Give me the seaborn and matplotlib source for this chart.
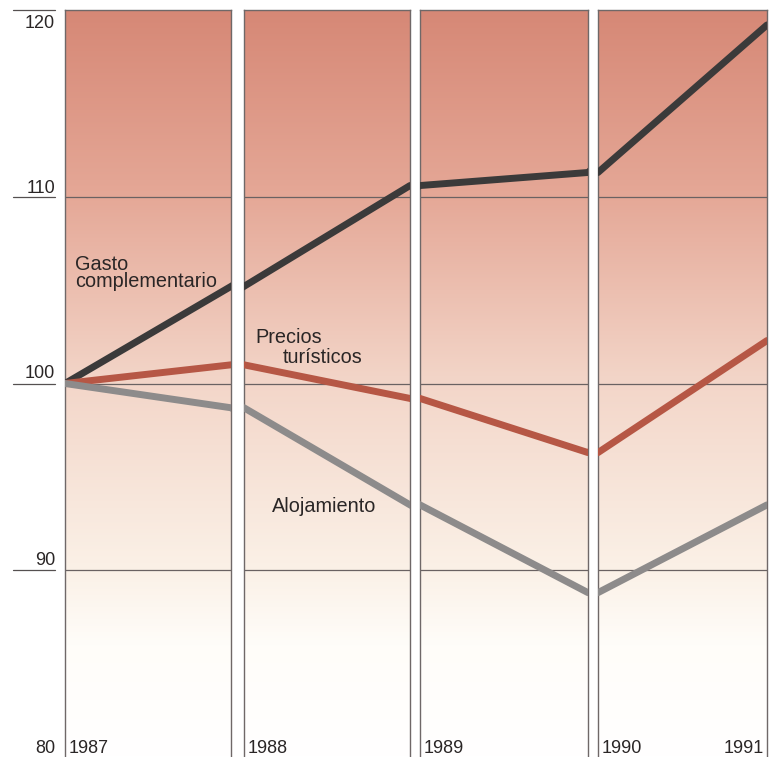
import numpy as np
import pandas as pd
import matplotlib
matplotlib.use("Agg")
import matplotlib.pyplot as plt
import seaborn as sns

years = [1987, 1988, 1989, 1990, 1991]
gasto_complementario = [100.0, 105.2, 110.6, 111.3, 119.2]
precios_turisticos = [100.0, 101.0, 99.2, 96.3, 102.3]
alojamiento = [100.0, 98.7, 93.5, 88.8, 93.5]
series_names = ["Gasto complementario", "Precios turísticos", "Alojamiento"]
y_ticks = [80, 90, 100, 110, 120]

df = pd.DataFrame({
    "year": years * 3,
    "value": gasto_complementario + precios_turisticos + alojamiento,
    "serie": sum([[n] * len(years) for n in series_names], []),
})
palette = {"Gasto complementario": "#3b3a3a",
           "Precios turísticos": "#b65745",
           "Alojamiento": "#8d8b8b"}

sns.set_style("white")
plt.rcParams["font.family"] = ["Liberation Sans", "DejaVu Sans"]

fig = plt.figure(figsize=(7.7, 7.57), dpi=100)
W, H = 770, 757
panels = [(65, 166), (244, 166), (420, 168), (598, 169)]
top_px = 10
TXT = "#2a2626"
LBL = 14.3

# vertical background gradient: salmon at top fading to white near the bottom
stops_v = [80, 86, 90, 100, 110, 120]
stops_c = np.array([(255, 255, 255), (255, 253, 249), (251, 241, 231),
                    (243, 214, 201), (229, 168, 151), (214, 136, 118)]) / 255.0
vals = np.linspace(80, 120, 400)
grad = np.stack([np.interp(vals, stops_v, stops_c[:, k]) for k in range(3)], axis=1)
grad = grad[::-1][:, None, :]

axes = []
for i, (x0, w) in enumerate(panels):
    ax = fig.add_axes([x0 / W, 0, w / W, (H - top_px) / H])
    y0, y1 = years[i], years[i + 1]
    ax.imshow(grad, extent=[y0, y1, 80, 120], aspect="auto", zorder=0)
    for g in [90, 100, 110]:
        ax.axhline(g, color="#6a6262", lw=0.9, zorder=1)
    sns.lineplot(data=df, x="year", y="value", hue="serie", palette=palette,
                 hue_order=series_names, lw=5, ax=ax, legend=False, zorder=3)
    ax.set_xlim(y0, y1)
    ax.set_ylim(80, 120)
    ax.set_xticks([])
    ax.set_yticks([])
    ax.set_xlabel("")
    ax.set_ylabel("")
    for s in ["left", "right", "top"]:
        ax.spines[s].set_visible(True)
        ax.spines[s].set_color("#6f6868")
        ax.spines[s].set_linewidth(1.0)
    ax.spines["bottom"].set_visible(False)
    ax.text(y0 + 0.02, 80.2, str(y0), ha="left", va="baseline",
            fontsize=13, color=TXT)
    axes.append(ax)

axes[-1].text(years[-1] - 0.02, 80.2, str(years[-1]), ha="right",
              va="baseline", fontsize=13, color=TXT)

# y scale at the left of the first panel
ax0 = axes[0]
ytr = ax0.get_yaxis_transform()
label_base = {120: 119.05, 110: 110.2, 100: 100.3, 90: 90.28, 80: 80.2}
for v in y_ticks:
    if v != 80:
        ax0.plot([-0.315, -0.06], [v, v], transform=ytr,
                 color="#555050", lw=0.9, clip_on=False)
    ax0.text(-0.06, label_base[v], str(v), transform=ytr, ha="right",
             va="baseline", fontsize=13, color=TXT)

# series labels
ax0.text(1987.06, 105.17, "Gasto\ncomplementario", fontsize=LBL, color=TXT,
         ha="left", va="baseline", linespacing=0.88)
axes[1].text(1988.066, 102.17, "Precios", fontsize=LBL, color=TXT,
             ha="left", va="baseline")
axes[1].text(1988.235, 101.1, "turísticos", fontsize=LBL, color=TXT,
             ha="left", va="baseline")
axes[1].text(1988.17, 93.12, "Alojamiento", fontsize=LBL, color=TXT,
             ha="left", va="baseline")

fig.savefig("out.png", dpi=100)
